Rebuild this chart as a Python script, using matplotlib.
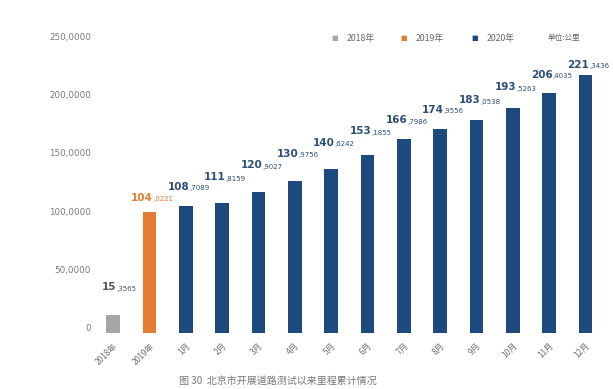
import matplotlib
matplotlib.use("Agg")
import matplotlib.pyplot as plt
from matplotlib.ticker import FuncFormatter

plt.rcParams['font.family'] = ['DejaVu Sans', 'Noto Sans CJK SC']

categories = ["2018年", "2019年", "1月", "2月", "3月", "4月", "5月", "6月",
              "7月", "8月", "9月", "10月", "11月", "12月"]
values = [153565, 1040221, 1087089, 1118159, 1209027, 1309756, 1406242,
          1531855, 1667986, 1749556, 1830538, 1935263, 2064035, 2213436]
groups = ["2018年", "2019年"] + ["2020年"] * 12
yticks = [0, 500000, 1000000, 1500000, 2000000, 2500000]
caption = "图 30  北京市开展道路测试以来里程累计情况"
unit_text = "单位:公里"

colors = {"2018年": "#a6a6a6", "2019年": "#e27b34", "2020年": "#1c4a7e"}
label_colors = {"2018年": "#555555", "2019年": "#e27b34", "2020年": "#2c4f78"}
# vertical label offsets (in km) above the bar value, as placed in the source
label_offsets = [240000, 120000, 167000, 220000, 230000, 230000, 230000,
                 200000, 160000, 166000, 170000, 175000, 156000, 90000]

fig = plt.figure(figsize=(6.13, 3.89), dpi=100)
ax = fig.add_axes([95/613, 1-333/389, 505/613, (333-42)/389])

x = list(range(len(categories)))
ax.bar(x, values, width=0.38, color=[colors[g] for g in groups])

ax.set_xlim(-0.5, 13.4)
ax.set_ylim(0, 2500000)
ax.set_yticks(yticks)

def fmt(v, pos=None):
    v = int(round(v))
    if v == 0:
        return "0"
    hi, lo = divmod(v, 10000)
    return f"{hi},{lo:04d}"

ax.yaxis.set_major_formatter(FuncFormatter(fmt))
ax.tick_params(axis='y', length=0, labelsize=6.3, labelcolor="#7a7a7a", pad=3)
for lbl in ax.get_yticklabels():
    lbl.set_verticalalignment('bottom')
ax.set_xticks(x)
ax.set_xticklabels(categories, rotation=45, ha='right', rotation_mode='anchor',
                   fontsize=6, color="#707070",
                   family=['Noto Sans CJK SC', 'DejaVu Sans'])
ax.tick_params(axis='x', length=0, pad=6)
for s in ax.spines.values():
    s.set_visible(False)

for xi, v, g, off in zip(x, values, groups, label_offsets):
    hi, lo = divmod(v, 10000)
    yy = v + off
    ax.text(xi + 0.1, yy, f"{hi}", ha='right', va='center', fontsize=7.5,
            fontweight='bold', color=label_colors[g])
    ax.text(xi + 0.1, yy - 12000, f",{lo:04d}", ha='left', va='center',
            fontsize=5, color=label_colors[g])

# legend
ly = 1 - 38/389
for g, lx in zip(["2018年", "2019年", "2020年"], [331, 400, 471]):
    fig.text(lx/613, ly, "■", color=colors[g], fontsize=5, ha='left', va='center')
    fig.text((lx + 16)/613, ly, g, color="#666666", fontsize=6.3, ha='left', va='center',
             family=['Noto Sans CJK SC', 'DejaVu Sans'])
fig.text(548/613, ly, unit_text, color="#666666", fontsize=5.5, ha='left', va='center',
         family=['Noto Sans CJK SC', 'DejaVu Sans'])

fig.text(278/613, 1 - 381/389, caption, color="#777777", fontsize=7.2, ha='center',
         va='center', family=['Noto Sans CJK SC', 'DejaVu Sans'])

fig.savefig("out.png", dpi=100, facecolor="white")
